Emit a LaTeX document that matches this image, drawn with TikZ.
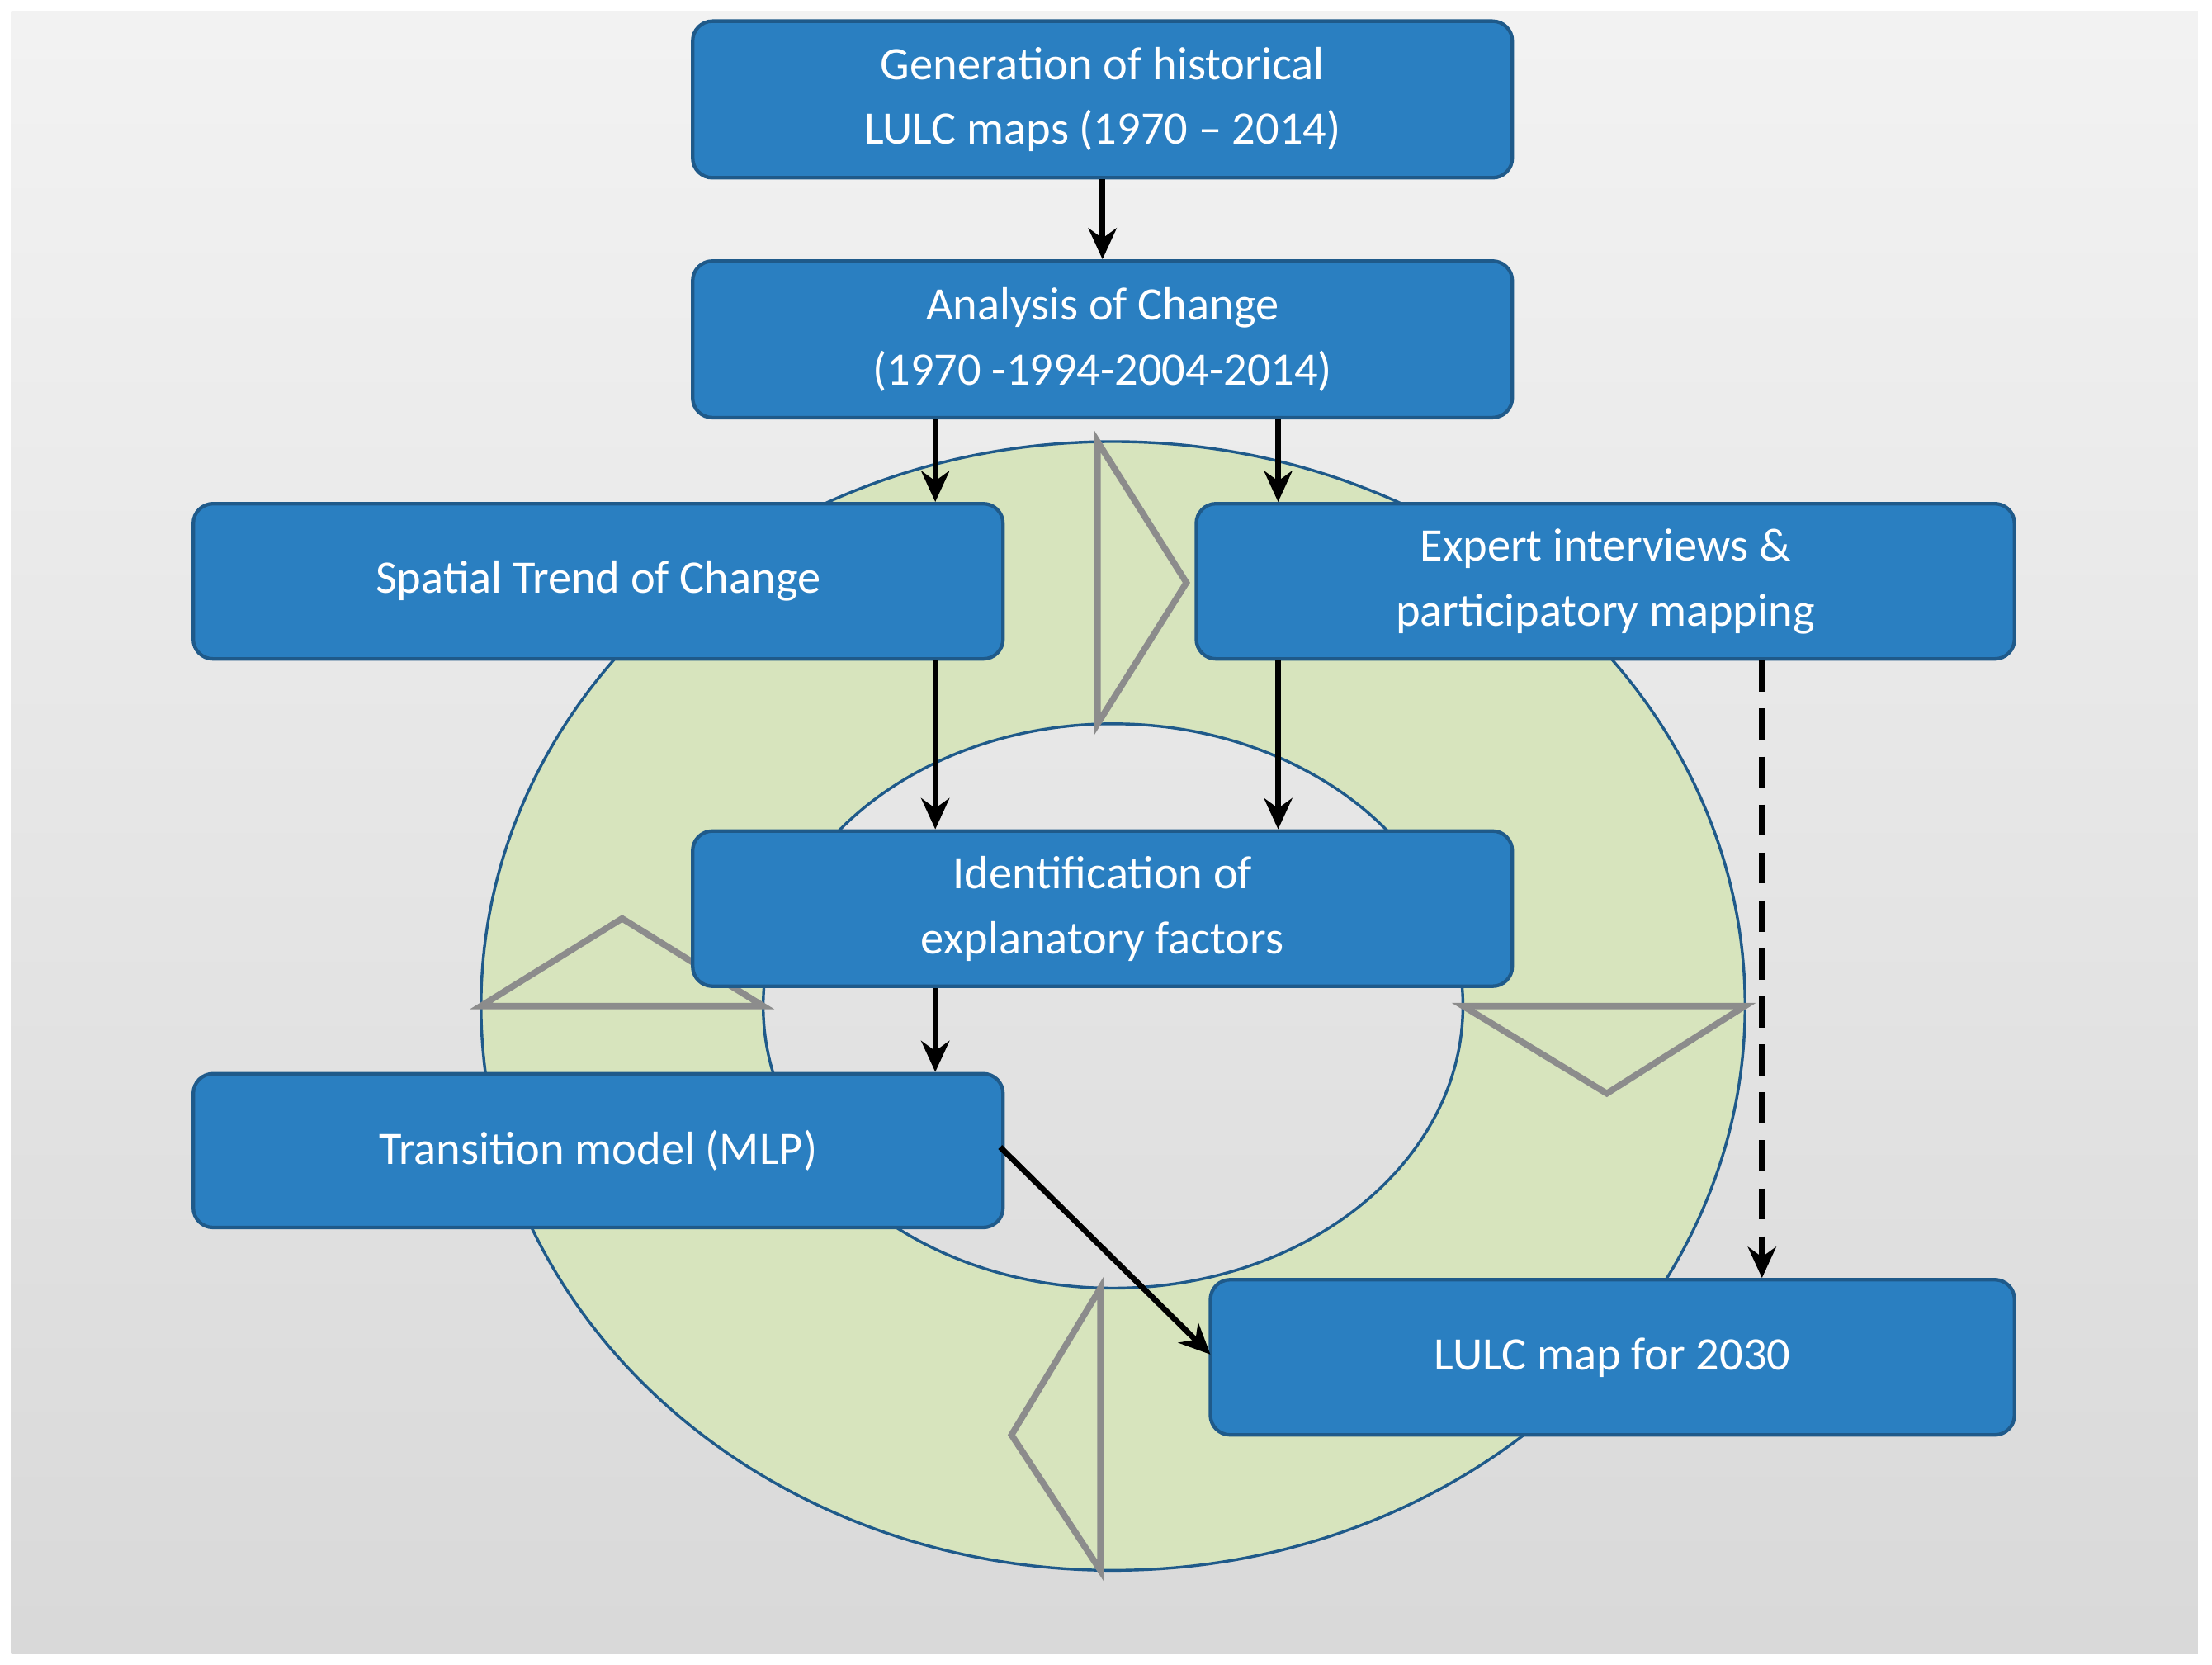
\documentclass[tikz,border=0pt]{standalone}
\usepackage{fontspec}
\setmainfont{Carlito}
\usetikzlibrary{arrows.meta}
\definecolor{boxblue}{HTML}{2A7FC1}
\definecolor{boxedge}{HTML}{1F5A8A}
\definecolor{ringgreen}{HTML}{D7E4BD}
\definecolor{chev}{HTML}{8C8C8C}
\begin{document}
\begin{tikzpicture}[x=1pt,y=-1pt,
  box/.style={draw=boxedge,line width=2.5pt,fill=boxblue,rounded corners=14pt,text=white,
    align=center,font=\fontsize{33}{46}\selectfont,inner sep=0pt},
  arr/.style={line width=4pt,-{Stealth[length=22pt,width=20pt]}},
  ch/.style={draw=chev,line width=4.5pt,line join=miter}]
\useasboundingbox (0,0) rectangle (1568,1180);
\fill[white] (0,0) rectangle (1568,1180);
\shade[top color=black!5,bottom color=black!15] (8,8) rectangle (1558,1172);
% ring
\path[fill=ringgreen,even odd rule,draw=boxedge,line width=2pt]
  (789,713) ellipse [x radius=448,y radius=400]
  (789,713) ellipse [x radius=248,y radius=200];
% chevrons
\draw[ch] (778,313) -- (841,413) -- (778,513) -- cycle;
\draw[ch] (341,713) -- (441,651) -- (541,713) -- cycle;
\draw[ch] (1037,713) -- (1139,775) -- (1237,713) -- cycle;
\draw[ch] (780,913) -- (717,1017) -- (780,1113) -- cycle;
% boxes
\node[box,minimum width=581,minimum height=111] (B1) at (781.5,70.5) {Generation of historical\\LULC maps (1970 -- 2014)};
\node[box,minimum width=581,minimum height=111] (B2) at (781.5,240.5) {Analysis of Change\\(1970 -1994-2004-2014)};
\node[box,minimum width=574,minimum height=110] (B3) at (424,412) {Spatial Trend of Change};
\node[box,minimum width=580,minimum height=110] (B4) at (1138,412) {Expert interviews \&\\participatory mapping};
\node[box,minimum width=581,minimum height=110] (B5) at (781.5,644) {Identification of\\explanatory factors};
\node[box,minimum width=574,minimum height=109] (B6) at (424,815.5) {Transition model (MLP)};
\node[box,minimum width=570,minimum height=110] (B7) at (1143,962) {LULC map for 2030};
% connectors
\coordinate (xa) at (663,0);
\coordinate (xb) at (906,0);
\coordinate (xc) at (1249,0);
\coordinate (s6) at (709,813);
\coordinate (t7) at (858,960);
\draw[arr] (B1) -- (B2);
\draw[arr] (B2.south -| xa) -- (B3.north -| xa);
\draw[arr] (B2.south -| xb) -- (B4.north -| xb);
\draw[arr] (B3.south -| xa) -- (B5.north -| xa);
\draw[arr] (B4.south -| xb) -- (B5.north -| xb);
\draw[arr] (B5.south -| xa) -- (B6.north -| xa);
\draw[arr] (s6) -- (t7);
\draw[arr,dash pattern=on 22pt off 12pt] (B4.south -| xc) -- (B7.north -| xc);
\end{tikzpicture}
\end{document}
